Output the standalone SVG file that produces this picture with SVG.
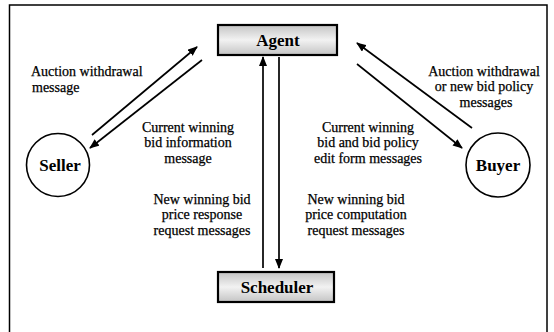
<svg xmlns="http://www.w3.org/2000/svg" width="554" height="332" viewBox="0 0 554 332">
<style>
  .frame{fill:#fff;stroke:#000;stroke-width:1.5}
  .box{fill:url(#stip);stroke:#000;stroke-width:2.2}
  .circ{fill:#fff;stroke:#000;stroke-width:1.6}
  .node{font-family:"Liberation Serif","Times New Roman",serif;font-weight:bold;font-size:17px;fill:#000;text-anchor:middle}
  .lbl{font-family:"Liberation Serif","Times New Roman",serif;font-size:14px;fill:#000;stroke:#000;stroke-width:0.25}
  .mid{text-anchor:middle}
  .conn line{stroke:#000;stroke-width:1.7;fill:none;marker-end:url(#ah)}
</style>
<defs>
  <linearGradient id="stip" x1="0" y1="0" x2="0" y2="1">
    <stop offset="0" stop-color="#c4c4c4"/>
    <stop offset="0.5" stop-color="#f2f2f2"/>
    <stop offset="1" stop-color="#c4c4c4"/>
  </linearGradient>
  <marker id="ah" markerWidth="10" markerHeight="8" refX="9" refY="4" orient="auto" markerUnits="userSpaceOnUse">
    <path d="M0,0 L10,4 L0,8 Z" fill="#000"/>
  </marker>
</defs>
<rect width="554" height="332" fill="#fff"/>
<rect class="frame" x="9.5" y="5" width="537.5" height="340"/>

<g id="connectors" class="conn">
  <line x1="92" y1="135" x2="197" y2="47"/>
  <line x1="202" y1="60" x2="90" y2="148"/>
  <line x1="472" y1="128" x2="357" y2="43"/>
  <line x1="357" y1="64" x2="462" y2="148"/>
  <line x1="263" y1="268" x2="263" y2="57"/>
  <line x1="279" y1="57" x2="279" y2="268"/>
</g>

<g id="agent">
  <rect class="box" x="218" y="25" width="119" height="30"/>
  <text class="node" x="278" y="46">Agent</text>
</g>
<g id="scheduler">
  <rect class="box" x="218" y="272" width="116" height="30"/>
  <text class="node" x="277" y="293">Scheduler</text>
</g>
<g id="seller">
  <circle class="circ" cx="58" cy="165" r="31.5"/>
  <text class="node" x="60" y="170.5">Seller</text>
</g>
<g id="buyer">
  <circle class="circ" cx="498" cy="165" r="32"/>
  <text class="node" x="498" y="170.5">Buyer</text>
</g>

<g id="labels">
  <text class="lbl" x="31" y="76">Auction withdrawal</text>
  <text class="lbl" x="32" y="91.5">message</text>

  <text class="lbl mid" x="188" y="131.5">Current winning</text>
  <text class="lbl mid" x="188" y="147">bid information</text>
  <text class="lbl mid" x="188" y="162.5">message</text>

  <text class="lbl mid" x="484" y="75.5">Auction withdrawal</text>
  <text class="lbl mid" x="484" y="91">or new bid policy</text>
  <text class="lbl mid" x="486" y="106.5">messages</text>

  <text class="lbl mid" x="368" y="131.5">Current winning</text>
  <text class="lbl mid" x="368" y="147">bid and bid policy</text>
  <text class="lbl mid" x="368" y="162.5">edit form messages</text>

  <text class="lbl mid" x="202" y="203.5">New winning bid</text>
  <text class="lbl mid" x="202" y="219">price response</text>
  <text class="lbl mid" x="202" y="234.5">request messages</text>

  <text class="lbl mid" x="356" y="203.5">New winning bid</text>
  <text class="lbl mid" x="356" y="219">price computation</text>
  <text class="lbl mid" x="356" y="234.5">request messages</text>
</g>
</svg>
